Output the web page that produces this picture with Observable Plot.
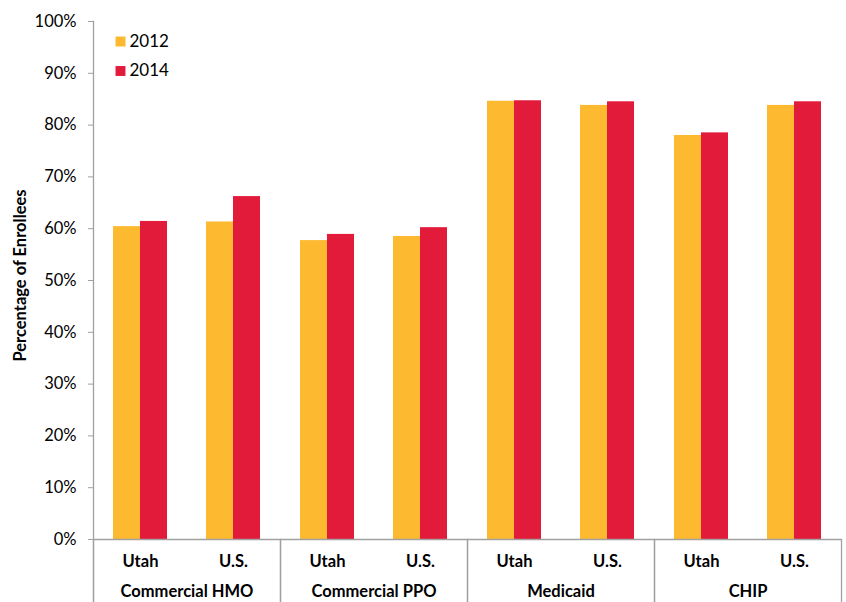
<!DOCTYPE html>
<html>
<head>
<meta charset="utf-8">
<script src="https://cdn.jsdelivr.net/npm/d3@7"></script>
<script src="https://cdn.jsdelivr.net/npm/@observablehq/plot@0.6"></script>
<style>
  html, body { margin: 0; padding: 0; background: #fff; }
  #chart { width: 846px; height: 602px; overflow: hidden; }
</style>
</head>
<body>
<div id="chart"></div>
<script>
// ---- data ----
const groups = ["Commercial HMO", "Commercial PPO", "Medicaid", "CHIP"];
const subs = ["Utah", "U.S."];
const years = ["2012", "2014"];
const values2012 = [60.4, 61.3, 57.7, 58.5, 84.6, 83.8, 78.0, 83.8];
const values2014 = [61.4, 66.2, 58.9, 60.2, 84.7, 84.5, 78.5, 84.5];
const yTicks = [0, 0.1, 0.2, 0.3, 0.4, 0.5, 0.6, 0.7, 0.8, 0.9, 1.0];
const colors = ["#FDB92F", "#E31B3B"];
const yLabel = "Percentage of Enrollees";

const rows = groups.flatMap((g, i) => subs.map((s, j) => ({
  group: g, sub: s,
  v2012: values2012[i * 2 + j] / 100,
  v2014: values2014[i * 2 + j] / 100
})));

const W = 846, H = 602;
const mL = 92, mR = 4, mT = 21, mB = 63;
const plotH = H - mT - mB;
const facetW = (W - mL - mR) / groups.length;
const xPadInner = 0.424, xPadOuter = 0.212;
const bandW = facetW / 2 * (1 - xPadInner);
const grey = "#A0A0A0";
const fs = 16.5;
const first = () => groups[0];

const legendMarks = years.flatMap((yr, i) => [
  Plot.dot([yr], {fx: first, frameAnchor: "top-left", dx: 27, dy: 20 + i * 29.5,
    symbol: "square", r: 5.6, fill: colors[i], stroke: null}),
  Plot.text([yr], {fx: first, frameAnchor: "top-left", dx: 36, dy: 20 + i * 29.5,
    text: d => d, textAnchor: "start", lineAnchor: "middle", fontSize: 17, fill: "#000"})
]);

const chart = Plot.plot({
  width: W, height: H,
  marginLeft: mL, marginRight: mR, marginTop: mT, marginBottom: mB,
  style: {fontFamily: "Lato, 'Open Sans', sans-serif", fontSize: fs + "px", color: "#000", background: "#fff"},
  fx: {domain: groups, padding: 0, label: null},
  x: {domain: subs, paddingInner: xPadInner, paddingOuter: xPadOuter, label: null},
  y: {domain: [0, 1], label: null},
  marks: [
    Plot.barY(rows, {fx: "group", x: "sub", y: "v2012", fill: colors[0], insetRight: bandW / 2}),
    Plot.barY(rows, {fx: "group", x: "sub", y: "v2014", fill: colors[1], insetLeft: bandW / 2}),
    Plot.ruleY([0], {stroke: grey, strokeWidth: 1.3}),
    // y axis line (first facet only)
    Plot.frame({anchor: "left", stroke: grey, strokeWidth: 1.3, insetBottom: -mB, facetAnchor: "left"}),
    // category dividers below axis
    Plot.frame({anchor: "left", stroke: grey, strokeWidth: 1.3, insetTop: plotH, insetBottom: -mB}),
    Plot.frame({anchor: "right", stroke: grey, strokeWidth: 1.3, insetTop: plotH, insetBottom: -mB}),
    Plot.axisY({ticks: yTicks, tickFormat: d3.format(".0%"), tickSize: 5, tickPadding: 12,
      stroke: grey, fontSize: fs, fill: "#000", label: null}),
    Plot.axisX({anchor: "bottom", tickSize: 0, tickPadding: 16, fontWeight: "bold", fontSize: fs, label: null}),
    Plot.axisFx({anchor: "bottom", tickSize: 0, tickPadding: 46, fontWeight: "bold", fontSize: fs, label: null}),
    Plot.text([yLabel], {fx: first, frameAnchor: "left", dx: -73, dy: -5, rotate: -90,
      text: d => d, textAnchor: "middle", lineAnchor: "middle", fontWeight: "bold", fontSize: fs, fill: "#000"}),
    ...legendMarks
  ]
});
document.getElementById("chart").appendChild(chart);
</script>
</body>
</html>
